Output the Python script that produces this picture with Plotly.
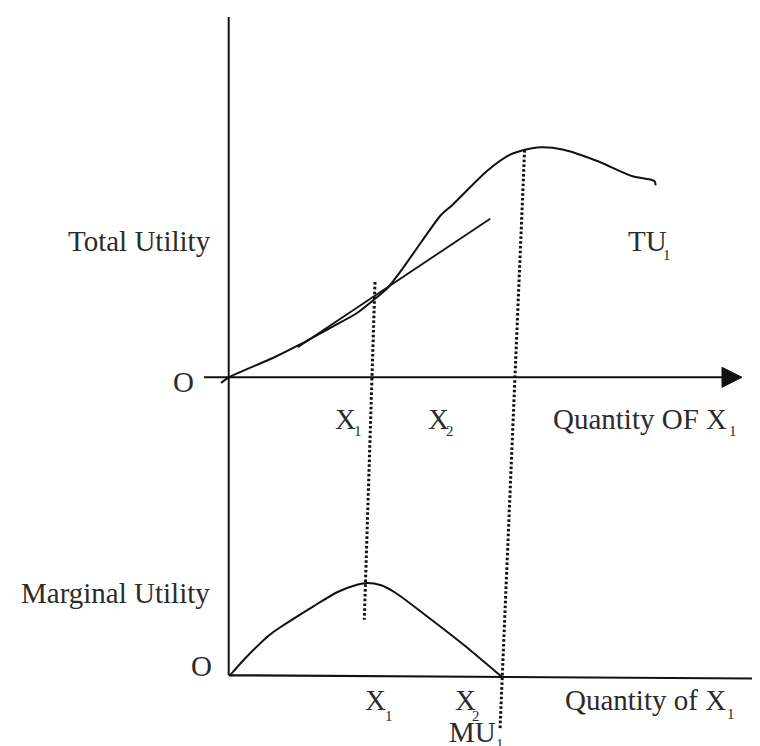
import plotly.graph_objects as go

# ---------------- data (diagram units; origin = axis crossing of each panel) -------------
# Upper panel: Total Utility curve
tu_q = [-7.7, 0, 44.1, 70.9, 101.3, 128.3, 147.3, 158.9, 174.3, 193.3, 212.3, 224,
        258.3, 281.3, 296.3, 312, 335, 369.3, 403.9, 422.6, 426, 427]
tu_u = [-5.7, 0, 19.3, 32.6, 49.3, 64.3, 79.3, 89.3, 109.3, 136.3, 162.3, 172.6,
        206.3, 222.6, 227.6, 230, 227.6, 216, 201, 197.6, 196, 192]
# Tangent line at X1
tan_q = [69, 261.5]
tan_u = [30, 158.6]
# Lower panel: Marginal Utility curve
mu_q = [1.3, 16.8, 41.1, 55.6, 84.7, 108.9, 128.3, 138, 152.5, 167.1, 196.2, 234.9, 273.7]
mu_v = [0, 17.3, 40.6, 50.6, 69, 83.3, 90.6, 92.3, 90, 82.3, 60.6, 30.6, -2]
# Dotted guide lines (upper-panel units, running into the lower panel)
d1_q = [146.3, 135.6]
d1_u = [95.3, -242.4]
d2_q = [295.9, 271.3]
d2_u = [227.3, -352.4]
# Axes
vax_q = [0, 0]
vax_u = [360.3, -298]
uax_q = [-24.7, 493.3]
uax_u = [0, 0]
uarrow_q = [493.3, 513.3, 493.3, 493.3]
uarrow_u = [10, 0, -10, 10]
lax_q = [0, 527.3]
lax_v = [0, -3.2]
larrow_q = [527.3, 547.3, 527.3, 527.3]
larrow_v = [6.8, -3.2, -13.2, 6.8]

# Labels
upper_texts = ["Total Utility", "O", "TU", "X", "X", "Quantity OF X"]
upper_subs = ["", "", "1", "1", "2", "1"]
lower_texts = ["Marginal Utility", "O", "X", "X", "Quantity of X", "MU"]
lower_subs = ["", "", "1", "2", "1", "1"]

# ---------------- figure -------------
W, H = 760, 746
LINE = "#111111"
TXT = "#2b2b2b"
FONT = "Liberation Serif"

fig = go.Figure()

def line(x, y, yaxis="y", width=2, dash=None, shape="linear", fill=None, smoothing=None):
    ln = dict(color=LINE, width=width, shape=shape)
    if dash:
        ln["dash"] = dash
    if smoothing is not None:
        ln["smoothing"] = smoothing
    tr = go.Scatter(x=x, y=y, mode="lines", line=ln, yaxis=yaxis,
                    hoverinfo="skip", showlegend=False)
    if fill:
        tr.fill = "toself"
        tr.fillcolor = LINE
    fig.add_trace(tr)

line(vax_q, vax_u, width=2)
line(uax_q, uax_u, width=2)
line(uarrow_q, uarrow_u, width=1, fill=True)
line(tu_q, tu_u, width=2, shape="spline", smoothing=0.7)
line(tan_q, tan_u, width=1.8)
line(d1_q, d1_u, width=3, dash="2.6px,2.2px")
line(d2_q, d2_u, width=3, dash="2.6px,2.2px")
line(lax_q, lax_v, yaxis="y2", width=2.2)
line(larrow_q, larrow_v, yaxis="y2", width=1, fill=True)
line(mu_q, mu_v, yaxis="y2", width=2, shape="spline", smoothing=0.7)

# label positions (panel units)
upper_pos = [(-16.7, 135.9, "right"), (-45.2, -4.7, "center"), (398.1, 136.3, "left"),
             (105, -41.7, "left"), (198.3, -41.7, "left"), (323.2, -41.7, "left")]
upper_sub_pos = [None, None, (438.3, 122.6), (129.3, -54), (221.3, -54), (504, -54)]
lower_pos = [(-18.1, 81.9, "right"), (-27.7, 9.8, "center"), (135.3, -24.4, "left"),
             (225.3, -24.4, "left"), (335.3, -24.4, "left"), (218.8, -56.8, "left")]
lower_sub_pos = [None, None, (159.8, -40.7), (247.1, -40.7), (502.3, -38.7), (270.8, -68.8)]

anns = []
def add_labels(texts, subs, pos, sub_pos, yref):
    for t, s, p, sp in zip(texts, subs, pos, sub_pos):
        anns.append(dict(text=t, x=p[0], y=p[1], xref="x", yref=yref, xanchor=p[2],
                         yanchor="middle", showarrow=False, borderpad=0,
                         font=dict(family=FONT, size=29, color=TXT)))
        if s and sp:
            anns.append(dict(text=s, x=sp[0], y=sp[1], xref="x", yref=yref, xanchor="center",
                             yanchor="middle", showarrow=False, borderpad=0,
                             font=dict(family=FONT, size=15, color=TXT)))

add_labels(upper_texts, upper_subs, upper_pos, upper_sub_pos, "y")
add_labels(lower_texts, lower_subs, lower_pos, lower_sub_pos, "y2")

hidden = dict(visible=False, showgrid=False, zeroline=False, fixedrange=True)
fig.update_layout(
    width=W, height=H,
    margin=dict(l=0, r=0, t=0, b=0),
    paper_bgcolor="white", plot_bgcolor="white",
    xaxis=dict(range=[-220.7, 539.3], domain=[0, 1], **hidden),
    yaxis=dict(range=[-376.7, 369.3], domain=[0, 1], **hidden),
    yaxis2=dict(range=[-78.7, 667.3], domain=[0, 1], overlaying="y", **hidden),
    annotations=anns,
    showlegend=False,
)

fig.write_html("out.html")
